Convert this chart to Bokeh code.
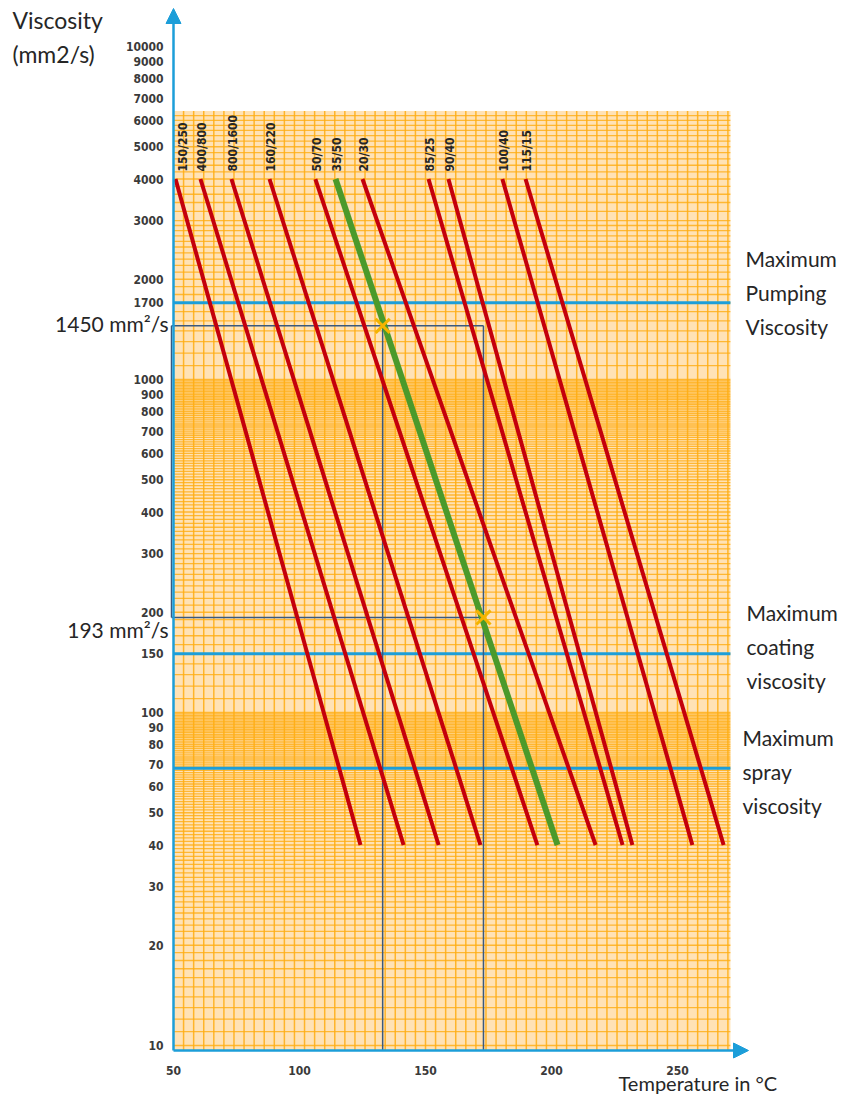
import numpy as np
from bokeh.plotting import figure
from bokeh.models import Range1d, FixedTicker, NumeralTickFormatter, Label, Arrow, NormalHead
from bokeh.core.properties import value
from bokeh.embed import file_html
from bokeh.resources import INLINE

# ---------------- data ----------------
line_labels = ["150/250", "400/800", "800/1600", "160/220", "50/70", "35/50",
               "20/30", "85/25", "90/40", "100/40", "115/15"]
visc_top = 4000          # mm2/s where each grade line starts
visc_bottom = 40         # mm2/s where each grade line ends
temp_at_top = [50.8, 60.7, 73.0, 88.1, 106.3, 114.3, 125.0, 151.2, 159.1, 180.5, 189.7]
temp_at_bottom = [124.2, 141.3, 155.2, 171.8, 194.4, 202.4, 217.5, 228.2, 232.1, 255.9, 268.3]
highlight_grade = "35/50"

limit_names = ["Maximum\nPumping\nViscosity", "Maximum\ncoating\nviscosity", "Maximum\nspray\nviscosity"]
limit_values = [1700, 150, 68]

example_visc = [1450, 193]
example_temp = [133, 173]
example_texts = ["1450 mm\u00b2/s", "193 mm\u00b2/s"]

y_ticks = [10, 20, 30, 40, 50, 60, 70, 80, 90, 100, 150, 200, 300, 400, 500, 600,
           700, 800, 900, 1000, 1700, 2000, 3000, 4000, 5000, 6000, 7000, 8000, 9000, 10000]
x_ticks = [50, 100, 150, 200, 250]

# ---------------- layout helpers (canvas pixel -> data) ----------------
PX_PER_DEG = 2.52
PX_PER_DECADE = 333.0
W, H = 843, 1095

def px2T(px):
    return 50 + (px - 173) / PX_PER_DEG

def py2v(py):
    return 10 ** (1 + (1045 - py) / PX_PER_DECADE)

V_AXIS = py2v(1050)
T_GRID_END = 271
V_GRID_TOP = 6400

ORANGE_BG = "#FFE2B6"
ORANGE_LINE = "#FFAD12"
BLUE = "#1C9ED9"
BOX = "#39597F"
RED = "#C4000C"
GREEN = "#4B9A2B"
MARK = "#F4B400"
TXT = "#262626"
TICKFONT = "DejaVu Sans Condensed"
MAINFONT = "Lato"

p = figure(width=W, height=H, x_range=Range1d(px2T(0), px2T(W)), y_range=Range1d(py2v(H), py2v(0)),
           y_axis_type="log", output_backend="svg", toolbar_location=None,
           min_border_left=0, min_border_right=0, min_border_top=0, min_border_bottom=0)
p.outline_line_color = None
p.grid.visible = False
p.background_fill_color = "white"

# axes (labels only), pinned to the chart's axis lines
for ax in (p.xaxis[0], p.yaxis[0]):
    ax.axis_line_color = None
    ax.major_tick_line_color = None
    ax.minor_tick_line_color = None
    ax.major_tick_out = 0
    ax.major_tick_in = 0
    ax.minor_tick_out = 0
    ax.minor_tick_in = 0
    ax.major_label_text_font = TICKFONT
    ax.major_label_text_font_style = "bold"
    ax.major_label_text_font_size = "12px"
    ax.major_label_text_color = "#3a3a3a"
    ax.formatter = NumeralTickFormatter(format="0")
p.yaxis.ticker = FixedTicker(ticks=y_ticks)
p.xaxis.ticker = FixedTicker(ticks=x_ticks)
p.yaxis.fixed_location = 50
p.xaxis.fixed_location = V_AXIS
p.yaxis.major_label_standoff = 10
p.xaxis.major_label_standoff = 15

# chart paper
p.quad(left=50, right=T_GRID_END, bottom=V_AXIS, top=V_GRID_TOP, fill_color=ORANGE_BG, line_color=None)
vgrid = np.arange(54, T_GRID_END, 4)
p.segment(x0=vgrid, x1=vgrid, y0=V_AXIS, y1=V_GRID_TOP, line_color=ORANGE_LINE, line_width=1.5, line_alpha=0.85)
hgrid = np.concatenate([np.arange(10, 100, 1), np.arange(100, 1000, 10),
                        np.arange(1000, 3000, 100), np.arange(3000, V_GRID_TOP, 200)])
p.segment(x0=50, x1=T_GRID_END, y0=hgrid, y1=hgrid, line_color=ORANGE_LINE, line_width=1.3, line_alpha=0.8)

# limit lines
p.segment(x0=50, x1=T_GRID_END, y0=limit_values, y1=limit_values, line_color=BLUE, line_width=3)

# axes with arrows
p.add_layout(Arrow(x_start=50, y_start=V_AXIS, x_end=50, y_end=py2v(8), line_color=BLUE, line_width=2.5,
                   end=NormalHead(size=15, fill_color=BLUE, line_color=BLUE)))
p.add_layout(Arrow(x_start=50, y_start=V_AXIS, x_end=px2T(748), y_end=V_AXIS, line_color=BLUE, line_width=2.5,
                   end=NormalHead(size=15, fill_color=BLUE, line_color=BLUE)))

# example construction box
x_left = px2T(171)
p.segment(x0=x_left, x1=example_temp[1], y0=example_visc, y1=example_visc, line_color=BOX, line_width=1.5)
p.segment(x0=example_temp, x1=example_temp, y0=example_visc[0], y1=V_AXIS, line_color=BOX, line_width=1.5)
p.segment(x0=[x_left], x1=[x_left], y0=[example_visc[1]], y1=[example_visc[0]], line_color=BOX, line_width=1.5)

# grade lines
red_idx = [i for i, l in enumerate(line_labels) if l != highlight_grade]
g_idx = line_labels.index(highlight_grade)
p.segment(x0=[temp_at_top[i] for i in red_idx], x1=[temp_at_bottom[i] for i in red_idx],
          y0=visc_top, y1=visc_bottom, line_color=RED, line_width=4)
p.segment(x0=[temp_at_top[g_idx]], x1=[temp_at_bottom[g_idx]], y0=visc_top, y1=visc_bottom,
          line_color=GREEN, line_width=6)

p.scatter(example_temp, example_visc, marker="x", size=20, line_color=MARK, line_width=3)

# grade labels
label_x = [max(t, px2T(181)) + 0.6 for t in temp_at_top]
p.text(x=label_x, y=py2v(171), text=line_labels, angle=np.pi / 2, text_align="left",
       text_baseline="middle", text_font=value(TICKFONT), text_font_style="bold",
       text_font_size="12px", text_color=TXT)

# texts
def add_label(text, px, py, size, align="left", baseline="middle"):
    p.add_layout(Label(x=px2T(px), y=py2v(py), text=text, text_font=MAINFONT, text_font_size=size,
                       text_color=TXT, text_align=align, text_baseline=baseline))

add_label("Viscosity", 12, 19, "23px")
add_label("(mm2/s)", 12, 53, "23px")
add_label(example_texts[0], 168, 323, "21px", align="right")
add_label(example_texts[1], 168, 629, "21px", align="right")
add_label("Temperature in \u00b0C", 618, 1082, "20px")

block_y = [258, 612, 737]
block_x = [745, 746, 742]
for name, by, bx in zip(limit_names, block_y, block_x):
    for k, line in enumerate(name.split("\n")):
        add_label(line, bx, by + 34 * k, "21px")

open("out.html", "w").write(file_html(p, INLINE))
